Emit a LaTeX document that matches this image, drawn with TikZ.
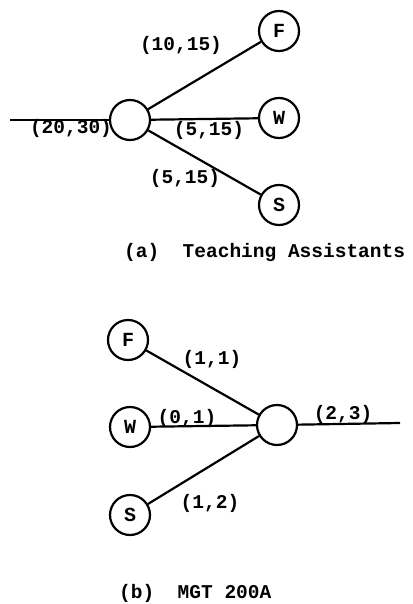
\documentclass[tikz,border=0pt]{standalone}
\usepackage{fontspec}
\setmainfont{Liberation Mono}
\begin{document}
\begin{tikzpicture}[x=1pt,y=-1pt,
  circ/.style={circle, draw, line width=2.2pt, minimum size=40pt, inner sep=0pt, font=\bfseries\fontsize{20}{20}\selectfont},
  lbl/.style={font=\bfseries\fontsize{19.5}{19.5}\selectfont, inner sep=0pt},
  edge/.style={line width=2.2pt}]
\useasboundingbox (0,0) rectangle (412,604);
% (a)
\node[circ] (hubA) at (130,120) {};
\node[circ] (F1) at (279,31) {F};
\node[circ] (W1) at (279,118) {W};
\node[circ] (S1) at (279,205) {S};
\coordinate (inA) at (10,120);
\draw[edge] (inA) -- (hubA);
\draw[edge] (hubA) -- (F1);
\draw[edge] (hubA) -- (W1);
\draw[edge] (hubA) -- (S1);
\node[lbl] (l1) at (181,45) {(10,15)};
\node[lbl] (l2) at (71,128) {(20,30)};
\node[lbl] (l3) at (209,130) {(5,15)};
\node[lbl] (l4) at (185,178) {(5,15)};
\node[lbl, anchor=west] (capA) at (124,252) {(a)\ \ Teaching Assistants};
% (b)
\node[circ] (F2) at (128,340) {F};
\node[circ] (W2) at (130,427) {W};
\node[circ] (S2) at (130,515) {S};
\node[circ] (hubB) at (277,425) {};
\coordinate (outB) at (400,423);
\draw[edge] (F2) -- (hubB);
\draw[edge] (W2) -- (hubB);
\draw[edge] (S2) -- (hubB);
\draw[edge] (hubB) -- (outB);
\node[lbl] (m1) at (212,359) {(1,1)};
\node[lbl] (m2) at (187,418) {(0,1)};
\node[lbl] (m3) at (343,414) {(2,3)};
\node[lbl] (m4) at (210,503) {(1,2)};
\node[lbl, anchor=west] (capB) at (119,593) {(b)\ \ MGT 200A};
\end{tikzpicture}
\end{document}
